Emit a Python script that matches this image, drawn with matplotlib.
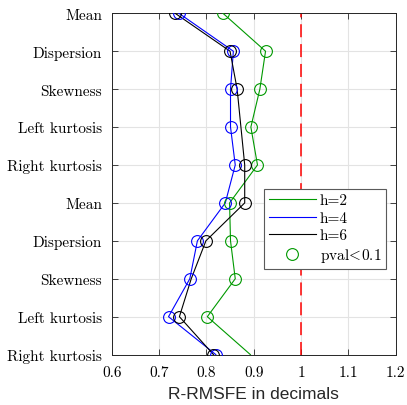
import matplotlib
matplotlib.use("Agg")
import matplotlib.pyplot as plt
from matplotlib.lines import Line2D

categories = ['Mean', 'Dispersion', 'Skewness', 'Left kurtosis', 'Right kurtosis',
              'Mean', 'Dispersion', 'Skewness', 'Left kurtosis', 'Right kurtosis']
h2 = [0.835, 0.925, 0.913, 0.894, 0.908, 0.849, 0.851, 0.861, 0.802, 0.893]
h4 = [0.742, 0.857, 0.851, 0.851, 0.861, 0.840, 0.781, 0.765, 0.720, 0.820]
h6 = [0.734, 0.850, 0.865, 0.873, 0.881, 0.881, 0.799, 0.768, 0.743, 0.815]
sig2 = [1, 1, 1, 1, 1, 1, 1, 1, 1, 0]
sig4 = [1, 1, 1, 1, 1, 1, 1, 1, 1, 1]
sig6 = [1, 1, 1, 0, 1, 1, 1, 0, 1, 1]
xticks = [0.6, 0.7, 0.8, 0.9, 1.0, 1.1, 1.2]
xticklabels = ['0.6', '0.7', '0.8', '0.9', '1', '1.1', '1.2']

plt.rcParams['mathtext.fontset'] = 'cm'
plt.rcParams['axes.formatter.use_mathtext'] = True

green = (0.0, 0.6, 0.0)
blue = (0.0, 0.0, 1.0)
black = (0.0, 0.0, 0.0)

fig = plt.figure(figsize=(4.07, 4.06), dpi=100)
ax = fig.add_axes([0.2745, 0.1241, 0.6977, 0.8407])

ypos = list(range(len(categories)))
series = [(h2, sig2, green, 'h=2'), (h4, sig4, blue, 'h=4'), (h6, sig6, black, 'h=6')]
for vals, sig, col, lab in series:
    ax.plot(vals, ypos, color=col, lw=0.8, zorder=3)
for vals, sig, col, lab in series:
    xs = [v for v, s in zip(vals, sig) if s]
    ys = [y for y, s in zip(ypos, sig) if s]
    ax.plot(xs, ys, 'o', mfc='none', mec=col, ms=8.5, mew=0.8, zorder=4)

ax.axvline(1.0, color='red', lw=1.1, ls=(0, (8.5, 4.5)), zorder=2)

ax.set_xlim(0.6, 1.2)
ax.set_ylim(len(categories) - 1, 0)
ax.set_xticks(xticks)
ax.set_xticklabels(xticklabels, fontfamily='cmr10', fontsize=11)
ax.set_yticks(ypos)
ax.set_yticklabels(categories, fontfamily='cmr10', fontsize=11)
ax.tick_params(direction='in', top=True, right=True, length=4, width=0.6, color='#262626')
ax.tick_params(axis='y', pad=7)
ax.tick_params(axis='x', pad=7.5)
ax.grid(True, color='#e3e3e3', lw=0.8, zorder=0)
ax.set_axisbelow(True)
for sp in ax.spines.values():
    sp.set_linewidth(0.7)
    sp.set_color('#262626')

ax.set_xlabel('R-RMSFE in decimals', fontfamily='Liberation Sans', fontsize=12.5,
              color='#262626', labelpad=5)

handles = [Line2D([], [], color=green, lw=0.8),
           Line2D([], [], color=blue, lw=0.8),
           Line2D([], [], color=black, lw=0.8),
           Line2D([], [], ls='none', marker='o', mfc='none', mec=green, ms=8.5, mew=0.8)]
labels = ['h=2', 'h=4', 'h=6', r'pval$\!<\!$0.1']
leg = ax.legend(handles, labels, loc='upper left', bbox_to_anchor=(0.536, 0.485),
                frameon=True, fancybox=False, edgecolor='#5a5a5a', framealpha=1,
                prop={'family': 'cmr10', 'size': 11}, handlelength=3.1,
                handletextpad=0.25, borderpad=0.3, labelspacing=0.25, borderaxespad=0)
leg.get_frame().set_linewidth(0.8)

fig.savefig('out.png', dpi=100)
